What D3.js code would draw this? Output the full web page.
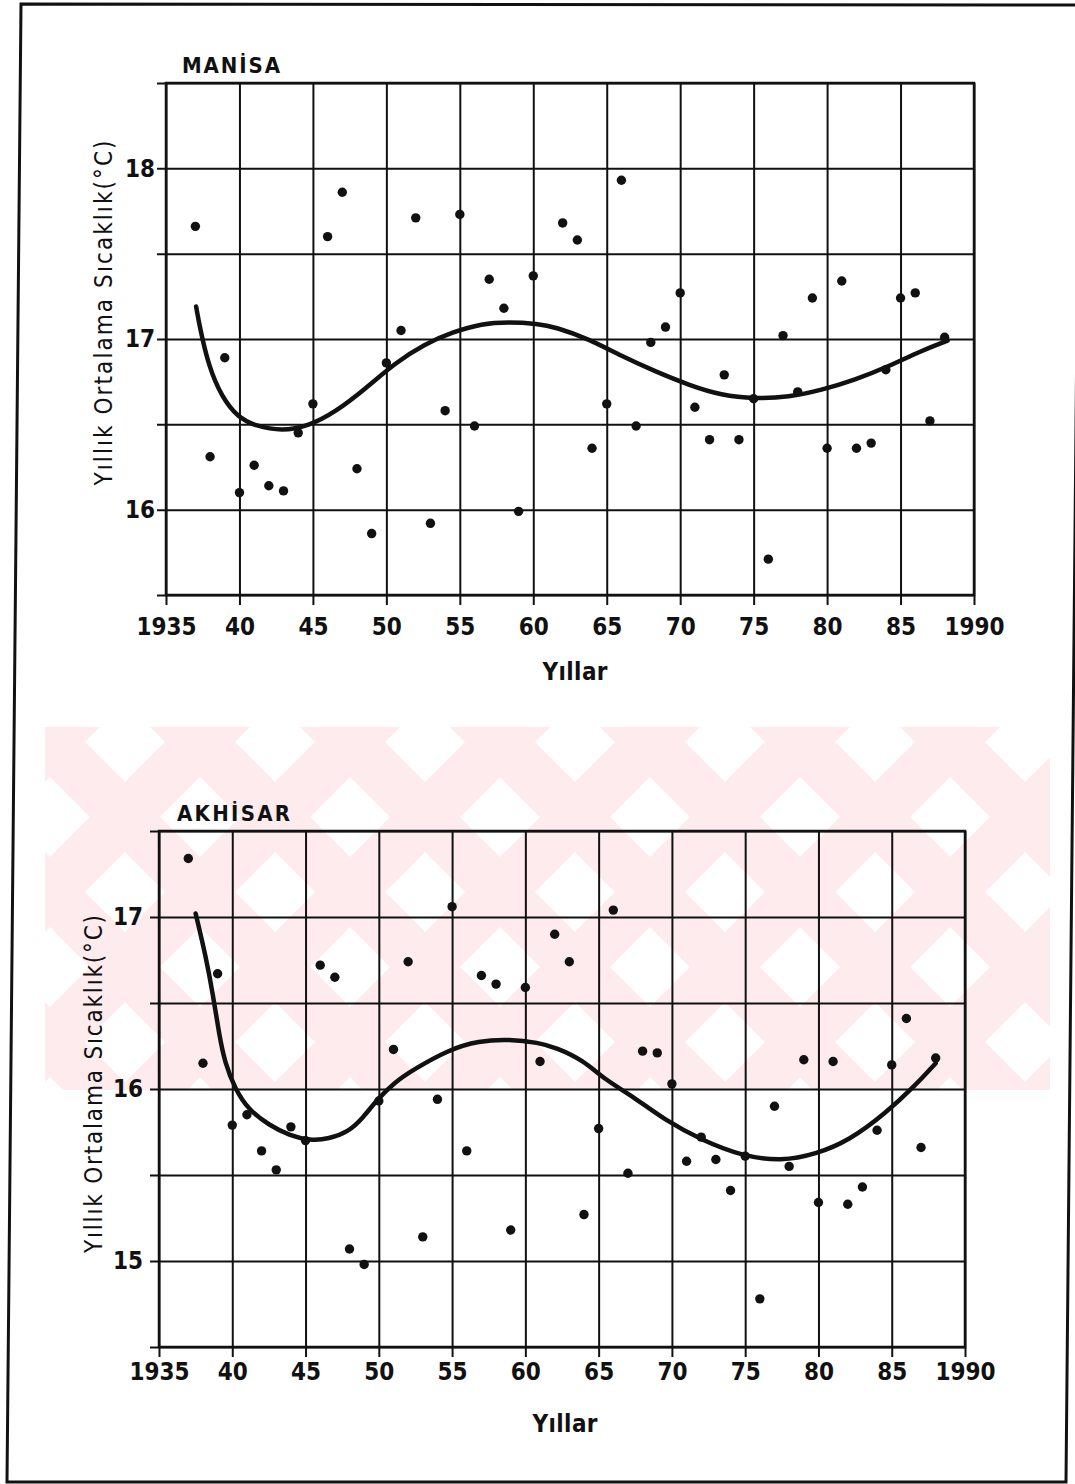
<!DOCTYPE html>
<html>
<head>
<meta charset="utf-8">
<script src="https://cdn.jsdelivr.net/npm/d3@7"></script>
<style>
  body { margin: 0; background: #fff; }
  svg text { font-family: "Liberation Sans Narrow", "DejaVu Sans Condensed", "Liberation Sans", sans-serif; fill: #111; }
</style>
</head>
<body>
<div class="figure"></div>
<script>
// Yearly mean temperatures for Manisa and Akhisar, with the fitted trend curve

// ---- data ----
var xTickValues = [1935, 1940, 1945, 1950, 1955, 1960, 1965, 1970, 1975, 1980, 1985, 1990];
var xTickLabels = ['1935', '40', '45', '50', '55', '60', '65', '70', '75', '80', '85', '1990'];

var manisaGrid = [15.5, 16, 16.5, 17, 17.5, 18, 18.5];
var manisaLabels = [16, 17, 18];
var akhisarGrid = [14.5, 15, 15.5, 16, 16.5, 17, 17.5];
var akhisarLabels = [15, 16, 17];

var manisaYears = [1937, 1938, 1939, 1940, 1941, 1942, 1943, 1944, 1945, 1946, 1947, 1948, 1949,
  1950, 1951, 1952, 1953, 1954, 1955, 1956, 1957, 1958, 1959, 1960, 1962, 1963, 1964, 1965,
  1966, 1967, 1968, 1969, 1970, 1971, 1972, 1973, 1974, 1975, 1976, 1977, 1978, 1979, 1980,
  1981, 1982, 1983, 1984, 1985, 1986, 1987, 1988];
var manisaTemps = [17.66, 16.31, 16.89, 16.10, 16.26, 16.14, 16.11, 16.45, 16.62, 17.60, 17.86, 16.24, 15.86,
  16.86, 17.05, 17.71, 15.92, 16.58, 17.73, 16.49, 17.35, 17.18, 15.99, 17.37, 17.68, 17.58, 16.36, 16.62,
  17.93, 16.49, 16.98, 17.07, 17.27, 16.60, 16.41, 16.79, 16.41, 16.65, 15.71, 17.02, 16.69, 17.24, 16.36,
  17.34, 16.36, 16.39, 16.82, 17.24, 17.27, 16.52, 17.01];

var manisaTrendYears = [1937.05, 1937.3, 1937.9, 1938.8, 1939.9, 1941.1, 1942.9, 1944.7, 1946.5, 1948.6,
  1950.6, 1952.6, 1954.5, 1956.5, 1958.3, 1960.3, 1961.5, 1963.8, 1966.0, 1968.3, 1970.6, 1972.8,
  1975.1, 1977.4, 1979.6, 1981.9, 1984.2, 1986.4, 1988.2];
var manisaTrendTemps = [17.19, 17.07, 16.84, 16.66, 16.54, 16.49, 16.46, 16.49, 16.57, 16.71,
  16.86, 16.97, 17.04, 17.09, 17.10, 17.09, 17.07, 17.00, 16.90, 16.81, 16.73, 16.67,
  16.65, 16.66, 16.70, 16.76, 16.84, 16.93, 16.99];

var akhisarYears = [1937, 1938, 1939, 1940, 1941, 1942, 1943, 1944, 1945, 1946, 1947, 1948, 1949,
  1950, 1951, 1952, 1953, 1954, 1955, 1956, 1957, 1958, 1959, 1960, 1961, 1962, 1963, 1964, 1965,
  1966, 1967, 1968, 1969, 1970, 1971, 1972, 1973, 1974, 1975, 1976, 1977, 1978, 1979, 1980,
  1981, 1982, 1983, 1984, 1985, 1986, 1987, 1988];
var akhisarTemps = [17.34, 16.15, 16.67, 15.79, 15.85, 15.64, 15.53, 15.78, 15.70, 16.72, 16.65, 15.07, 14.98,
  15.93, 16.23, 16.74, 15.14, 15.94, 17.06, 15.64, 16.66, 16.61, 15.18, 16.59, 16.16, 16.90, 16.74, 15.27, 15.77,
  17.04, 15.51, 16.22, 16.21, 16.03, 15.58, 15.72, 15.59, 15.41, 15.61, 14.78, 15.90, 15.55, 16.17, 15.34,
  16.16, 15.33, 15.43, 15.76, 16.14, 16.41, 15.66, 16.18];

var akhisarTrendYears = [1937.5, 1938.2, 1938.7, 1939.1, 1939.5, 1940.2, 1941.1, 1942.5, 1943.9, 1945.3,
  1946.6, 1947.9, 1948.9, 1949.9, 1951.1, 1952.3, 1954.8, 1956.8, 1958.9, 1960.9, 1962.1, 1963.9,
  1965.5, 1967.3, 1969.5, 1972.1, 1974.8, 1977.5, 1979.8, 1982.1, 1984.6, 1986.6, 1988.0];
var akhisarTrendTemps = [17.02, 16.77, 16.54, 16.32, 16.15, 16.00, 15.88, 15.79, 15.73, 15.70,
  15.71, 15.75, 15.83, 15.94, 16.04, 16.11, 16.23, 16.28, 16.29, 16.27, 16.24, 16.17,
  16.05, 15.96, 15.82, 15.70, 15.61, 15.58, 15.62, 15.70, 15.86, 16.02, 16.15];

// ---- page ----
var svg = d3.select('.figure').append('svg')
  .attr('width', 1075)
  .attr('height', 1484);

// faint pink watermark stripes behind the second panel
var mark = svg.append('g');
svg.append('clipPath').attr('id', 'markClip')
  .append('rect').attr('x', 45).attr('y', 727).attr('width', 1005).attr('height', 363);
var bandStarts = [-300, -150, 0, 150, 300, 450, 600, 750, 900, 1050];
bandStarts.forEach(function(s) {
  mark.append('path')
    .attr('clip-path', 'url(#markClip)')
    .attr('d', 'M' + s + ',727 l70,0 l363,363 l-70,0 Z')
    .attr('fill', '#fdebee');
  mark.append('path')
    .attr('clip-path', 'url(#markClip)')
    .attr('d', 'M' + (s + 330) + ',727 l70,0 l-363,363 l-70,0 Z')
    .attr('fill', '#fdebee');
});

// scanned page border (slightly skewed)
svg.append('path')
  .attr('d', 'M21,4 L1080,5 L1066,1482 L7,1482 Z')
  .attr('fill', 'none')
  .attr('stroke', '#111')
  .attr('stroke-width', 3);

var drawPanel = function(p) {
  var g = svg.append('g');
  var x = d3.scaleLinear().domain([1935, 1990]).range([p.left, p.right]);
  var y = d3.scaleLinear().domain([p.grid[0], p.grid[p.grid.length - 1]]).range([p.bottom, p.top]);
  var h = p.bottom - p.top;
  var w = p.right - p.left;

  // vertical gridlines + ticks below the frame
  var xAxis = g.append('g')
    .attr('transform', 'translate(0,' + p.bottom + ')')
    .call(d3.axisBottom(x).tickValues(xTickValues).tickSizeInner(10).tickSizeOuter(0)
      .tickFormat(function(d, i) { return xTickLabels[i]; }));
  xAxis.select('.domain').remove();
  xAxis.selectAll('.tick line').attr('y1', -h).attr('stroke', '#111').attr('stroke-width', 2);
  xAxis.selectAll('.tick text')
    .attr('y', p.xLabelDrop).attr('dy', 0)
    .attr('font-size', 24).attr('font-weight', 'bold').attr('fill', '#111');

  // horizontal gridlines + short ticks to the left
  var yAxis = g.append('g')
    .attr('transform', 'translate(' + p.left + ',0)')
    .call(d3.axisLeft(y).tickValues(p.grid).tickSizeInner(9).tickSizeOuter(0).tickPadding(p.yPad)
      .tickFormat(function(d) { return p.labels.indexOf(d) >= 0 ? d : ''; }));
  yAxis.select('.domain').remove();
  yAxis.selectAll('.tick line').attr('x2', w).attr('x1', -9).attr('stroke', '#111').attr('stroke-width', 2);
  yAxis.selectAll('.tick text')
    .attr('font-size', 24).attr('font-weight', 'bold').attr('fill', '#111');

  g.append('rect')
    .attr('x', p.left).attr('y', p.top)
    .attr('width', w).attr('height', h)
    .attr('fill', 'none').attr('stroke', '#111').attr('stroke-width', 2.5);

  // fitted trend curve
  var trend = p.trendYears.map(function(d, i) { return [d, p.trendTemps[i]]; });
  var line = d3.line()
    .x(function(d) { return x(d[0]); })
    .y(function(d) { return y(d[1]); })
    .curve(d3.curveBasis);
  g.append('path')
    .datum(trend)
    .attr('d', line)
    .attr('fill', 'none')
    .attr('stroke', '#111')
    .attr('stroke-width', 4.5)
    .attr('stroke-linecap', 'round');

  // yearly values
  g.selectAll('circle.pt')
    .data(p.years)
    .enter()
    .append('circle')
      .attr('class', 'pt')
      .attr('cx', function(d) { return x(d); })
      .attr('cy', function(d, i) { return y(p.temps[i]); })
      .attr('r', 4.7)
      .attr('fill', '#111');

  // texts
  g.append('text')
    .attr('x', p.titleX).attr('y', p.top - 10)
    .attr('font-size', 22).attr('font-weight', 'bold')
    .attr('textLength', p.titleLen).attr('lengthAdjust', 'spacing')
    .text(p.title);

  g.append('text')
    .attr('transform', 'translate(' + p.yTitleX + ',' + p.yTitleY + ') rotate(-90)')
    .attr('text-anchor', 'middle')
    .attr('font-size', 24)
    .attr('textLength', p.yTitleLen).attr('lengthAdjust', 'spacing')
    .text(p.yTitle);

  g.append('text')
    .attr('x', p.xTitleX).attr('y', p.xTitleY)
    .attr('text-anchor', 'middle')
    .attr('font-size', 24).attr('font-weight', 'bold')
    .attr('textLength', 65).attr('lengthAdjust', 'spacing')
    .text('Yıllar');
};

drawPanel({
  title: 'MANİSA', titleX: 182, titleLen: 98,
  yTitle: 'Yıllık  Ortalama  Sıcaklık(°C)', yTitleX: 112, yTitleY: 313, yTitleLen: 345,
  xTitleX: 575, xTitleY: 680,
  left: 166, right: 974, top: 83, bottom: 595,
  grid: manisaGrid, labels: manisaLabels, yPad: 2, xLabelDrop: 40,
  years: manisaYears, temps: manisaTemps,
  trendYears: manisaTrendYears, trendTemps: manisaTrendTemps
});

drawPanel({
  title: 'AKHİSAR', titleX: 177, titleLen: 113,
  yTitle: 'Yıllık Ortalama Sıcaklık(°C)', yTitleX: 102, yTitleY: 1084, yTitleLen: 338,
  xTitleX: 565, xTitleY: 1432,
  left: 159, right: 965, top: 831, bottom: 1347,
  grid: akhisarGrid, labels: akhisarLabels, yPad: 7, xLabelDrop: 33,
  years: akhisarYears, temps: akhisarTemps,
  trendYears: akhisarTrendYears, trendTemps: akhisarTrendTemps
});
</script>
</body>
</html>
